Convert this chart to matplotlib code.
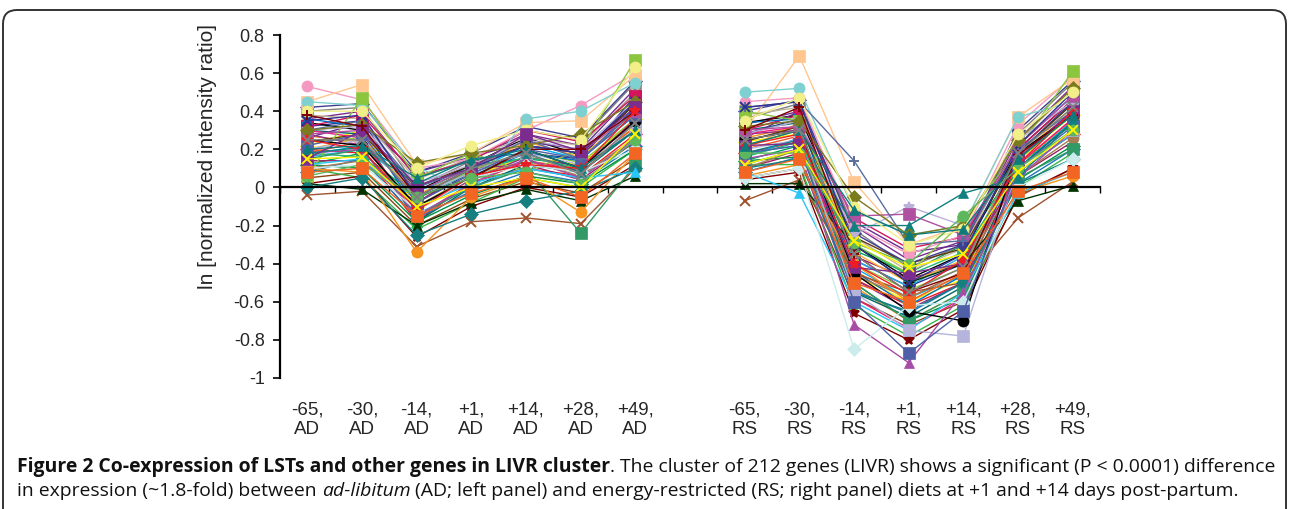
import numpy as np
import matplotlib
matplotlib.use("Agg")
import matplotlib.pyplot as plt
import matplotlib.patches as mpatches
import matplotlib.transforms as mtransforms

# time points (days relative to calving) for the two diets
days = ["-65", "-30", "-14", "+1", "+14", "+28", "+49"]
diets = ["AD", "RS"]
y_ticks = [-1, -0.8, -0.6, -0.4, -0.2, 0, 0.2, 0.4, 0.6, 0.8]
y_tick_labels = ["-1", "-0.8", "-0.6", "-0.4", "-0.2", "0", "0.2", "0.4", "0.6", "0.8"]

# ln ratios, one row per gene (a subset of the 212)
ad_values = [
    [0.53, 0.46, 0.10, 0.15, 0.30, 0.43, 0.60],
    [0.45, 0.54, 0.12, 0.18, 0.34, 0.35, 0.59],
    [0.45, 0.43, 0.11, -0.03, 0.36, 0.40, 0.55],
    [0.06, 0.47, 0.05, 0.18, 0.08, 0.20, 0.67],
    [-0.04, -0.02, -0.31, -0.18, -0.16, -0.19, 0.10],
    [0.02, -0.01, -0.20, -0.08, -0.01, -0.07, 0.06],
    [0.10, 0.08, -0.34, -0.05, 0.05, -0.13, 0.18],
    [0.15, 0.20, -0.15, 0.00, 0.10, -0.24, 0.12],
    [0.00, 0.05, -0.25, -0.14, -0.07, -0.02, 0.10],
    [0.12, 0.15, -0.10, 0.02, 0.10, 0.05, 0.08],
    [0.20, 0.25, -0.05, 0.08, 0.18, 0.12, 0.30],
    [0.25, 0.22, -0.10, 0.05, 0.20, 0.10, 0.35],
    [0.18, 0.20, -0.15, 0.02, 0.15, 0.05, 0.25],
    [0.10, 0.12, -0.12, 0.05, 0.12, 0.08, 0.20],
    [0.22, 0.28, -0.08, 0.07, 0.20, 0.15, 0.38],
    [0.30, 0.32, 0.02, 0.12, 0.25, 0.20, 0.45],
    [0.28, 0.30, -0.02, 0.10, 0.22, 0.18, 0.40],
    [0.18, 0.21, 0.02, 0.15, 0.18, 0.08, 0.30],
    [0.30, 0.35, 0.00, 0.10, 0.25, 0.15, 0.40],
    [0.35, 0.38, -0.05, 0.10, 0.22, 0.18, 0.45],
    [0.30, 0.33, 0.13, 0.18, 0.22, 0.28, 0.45],
    [0.40, 0.40, 0.10, 0.22, 0.30, 0.25, 0.63],
    [0.15, 0.30, 0.01, 0.10, 0.28, 0.19, 0.42],
    [0.38, 0.32, -0.05, 0.05, 0.20, 0.20, 0.40],
    [0.25, 0.20, -0.12, 0.06, 0.12, 0.10, 0.40],
    [0.06, 0.12, -0.05, 0.05, 0.08, 0.02, 0.25],
    [0.20, 0.22, 0.05, 0.14, 0.20, 0.10, 0.30],
    [0.25, 0.25, -0.05, 0.10, 0.18, 0.07, 0.34],
    [0.15, 0.16, -0.10, 0.00, 0.05, 0.00, 0.28],
    [0.08, 0.10, -0.15, -0.03, 0.05, -0.05, 0.18],
    [0.32, 0.35, -0.08, 0.08, 0.18, 0.15, 0.48],
    [0.20, 0.18, -0.18, 0.03, 0.10, 0.06, 0.28],
    [0.12, 0.18, -0.05, 0.12, 0.15, 0.12, 0.35],
    [0.36, 0.40, 0.05, 0.15, 0.28, 0.22, 0.52],
    [0.27, 0.24, -0.15, 0.02, 0.14, 0.10, 0.32],
    [0.17, 0.22, -0.02, 0.08, 0.22, 0.15, 0.38],
    [0.05, 0.08, -0.20, -0.06, 0.03, -0.03, 0.15],
    [0.40, 0.42, 0.00, 0.14, 0.30, 0.25, 0.55],
    [0.22, 0.30, -0.10, 0.06, 0.16, 0.12, 0.36],
    [0.30, 0.28, -0.18, 0.00, 0.12, 0.08, 0.30],
    [0.14, 0.14, -0.08, 0.10, 0.12, 0.04, 0.24],
    [0.10, 0.05, -0.22, -0.08, 0.05, 0.00, 0.20],
    [0.34, 0.30, -0.02, 0.12, 0.26, 0.17, 0.44],
    [0.26, 0.34, 0.08, 0.16, 0.24, 0.20, 0.50],
    [0.18, 0.24, -0.12, 0.04, 0.14, 0.08, 0.32],
    [0.08, 0.15, -0.16, -0.02, 0.08, 0.03, 0.22],
    [0.24, 0.26, -0.06, 0.09, 0.19, 0.13, 0.36],
    [0.38, 0.36, 0.04, 0.16, 0.26, 0.22, 0.50],
    [0.02, 0.06, -0.26, -0.10, 0.00, -0.05, 0.12],
    [0.28, 0.22, -0.10, 0.04, 0.16, 0.11, 0.34],
    [0.16, 0.20, -0.14, 0.00, 0.10, 0.05, 0.26],
    [0.32, 0.38, 0.06, 0.14, 0.30, 0.24, 0.48],
    [0.12, 0.10, -0.18, -0.04, 0.06, 0.02, 0.20],
    [0.20, 0.26, -0.04, 0.10, 0.24, 0.16, 0.40],
    [0.36, 0.32, -0.12, 0.06, 0.18, 0.14, 0.42],
    [0.24, 0.28, 0.00, 0.12, 0.22, 0.18, 0.44],
    [0.10, 0.14, -0.10, 0.06, 0.14, 0.06, 0.26],
    [0.30, 0.26, -0.16, 0.02, 0.14, 0.09, 0.36],
    [0.18, 0.16, -0.06, 0.08, 0.16, 0.10, 0.30],
    [0.42, 0.44, 0.08, 0.18, 0.32, 0.26, 0.56],
]
rs_values = [
    [0.45, 0.47, -0.20, -0.35, -0.25, 0.33, 0.58],
    [0.30, 0.69, 0.03, -0.30, -0.20, 0.37, 0.57],
    [0.50, 0.52, -0.12, -0.25, -0.20, 0.37, 0.45],
    [0.40, 0.35, -0.30, -0.45, -0.18, 0.20, 0.61],
    [-0.07, 0.04, -0.45, -0.55, -0.50, -0.16, 0.03],
    [0.02, 0.02, -0.30, -0.50, -0.40, -0.07, 0.01],
    [0.06, 0.12, -0.40, -0.60, -0.45, -0.03, 0.06],
    [0.12, 0.20, -0.50, -0.70, -0.55, 0.05, 0.20],
    [0.10, 0.15, -0.55, -0.65, -0.50, 0.02, 0.15],
    [0.08, -0.03, -0.60, -0.75, -0.55, -0.03, 0.08],
    [0.20, 0.25, -0.55, -0.75, -0.78, 0.10, 0.30],
    [0.25, 0.30, -0.45, -0.65, -0.70, 0.18, 0.38],
    [0.15, 0.20, -0.72, -0.92, -0.55, 0.05, 0.30],
    [0.05, 0.10, -0.85, -0.62, -0.60, 0.00, 0.15],
    [0.18, 0.22, -0.60, -0.87, -0.65, 0.10, 0.32],
    [0.28, 0.35, -0.25, -0.10, -0.20, 0.25, 0.45],
    [0.30, 0.32, -0.15, -0.14, -0.25, 0.22, 0.48],
    [0.18, 0.25, -0.20, -0.20, -0.03, 0.05, 0.35],
    [0.42, 0.45, 0.14, -0.30, -0.28, 0.20, 0.40],
    [0.42, 0.45, -0.30, -0.50, -0.35, 0.22, 0.50],
    [0.32, 0.35, -0.05, -0.25, -0.20, 0.25, 0.52],
    [0.35, 0.47, -0.10, -0.30, -0.22, 0.28, 0.50],
    [0.22, 0.23, -0.42, -0.45, -0.40, 0.15, 0.40],
    [0.30, 0.42, -0.35, -0.55, -0.45, 0.17, 0.38],
    [0.22, 0.28, -0.40, -0.56, -0.38, 0.12, 0.40],
    [0.18, 0.18, -0.29, -0.40, -0.15, 0.10, 0.30],
    [0.22, 0.30, -0.12, -0.25, -0.22, 0.15, 0.38],
    [0.25, 0.30, -0.35, -0.55, -0.42, 0.18, 0.42],
    [0.12, 0.20, -0.28, -0.42, -0.35, 0.08, 0.30],
    [0.08, 0.15, -0.50, -0.60, -0.45, -0.02, 0.08],
    [0.28, 0.36, -0.38, -0.52, -0.40, 0.18, 0.45],
    [0.18, 0.24, -0.48, -0.62, -0.50, 0.08, 0.28],
    [0.14, 0.22, -0.33, -0.45, -0.30, 0.12, 0.33],
    [0.33, 0.40, -0.20, -0.38, -0.28, 0.25, 0.53],
    [0.26, 0.32, -0.52, -0.70, -0.55, 0.12, 0.35],
    [0.16, 0.26, -0.42, -0.58, -0.46, 0.10, 0.35],
    [0.05, 0.10, -0.58, -0.72, -0.60, -0.05, 0.10],
    [0.36, 0.44, -0.22, -0.42, -0.30, 0.28, 0.55],
    [0.24, 0.28, -0.46, -0.60, -0.48, 0.14, 0.38],
    [0.30, 0.34, -0.55, -0.68, -0.52, 0.10, 0.34],
    [0.10, 0.18, -0.36, -0.48, -0.40, 0.06, 0.24],
    [0.12, 0.12, -0.62, -0.78, -0.62, 0.00, 0.18],
    [0.34, 0.38, -0.30, -0.48, -0.35, 0.20, 0.46],
    [0.26, 0.40, -0.18, -0.34, -0.30, 0.22, 0.48],
    [0.20, 0.27, -0.44, -0.58, -0.44, 0.12, 0.36],
    [0.08, 0.16, -0.54, -0.66, -0.50, 0.02, 0.20],
    [0.22, 0.30, -0.40, -0.54, -0.42, 0.14, 0.40],
    [0.38, 0.42, -0.26, -0.44, -0.32, 0.24, 0.52],
    [0.04, 0.08, -0.66, -0.80, -0.64, -0.04, 0.10],
    [0.28, 0.30, -0.48, -0.64, -0.50, 0.16, 0.40],
    [0.18, 0.22, -0.38, -0.52, -0.36, 0.08, 0.28],
    [0.30, 0.38, -0.16, -0.32, -0.26, 0.20, 0.46],
    [0.14, 0.16, -0.50, -0.70, -0.58, 0.04, 0.22],
    [0.20, 0.34, -0.34, -0.50, -0.38, 0.16, 0.42],
    [0.34, 0.36, -0.44, -0.62, -0.46, 0.18, 0.44],
    [0.24, 0.32, -0.26, -0.40, -0.32, 0.18, 0.44],
    [0.10, 0.20, -0.46, -0.58, -0.44, 0.06, 0.26],
    [0.28, 0.32, -0.58, -0.74, -0.58, 0.12, 0.36],
    [0.16, 0.24, -0.30, -0.46, -0.34, 0.10, 0.30],
    [0.40, 0.46, -0.24, -0.40, -0.30, 0.30, 0.56],
]

# series styles (Excel-like)
special_colors = ['#F49AC2', '#FFC690', '#7FD0D0', '#8CC63F', '#A0522D', '#003300',
                  '#F7931E', '#339966', '#168080', '#29C5F6', '#B4B4DC', '#000000',
                  '#A64CA6', '#CCECEC', '#4F5FA8', '#BBB0D8', '#B050A0', '#118080',
                  '#5A6E9E', '#2E3192', '#7A7A1E', '#F2EE88', '#7B2C8E', '#7F0000',
                  '#ED1C24', '#5DB75D', '#0E7A7A', '#808080', '#FFF200', '#F26522']
special_markers = ['o', 's', 'o', 's', 'x', '^', 'o', 's', 'D', '^', 's', 'o',
                   '^', 'D', 's', '*', 's', '^', '+', 'x', 'D', 'o', 's', '+',
                   '*', 'o', '^', 'x', 'x', 's']
other_colors = ['#2E3192', '#ED1C24', '#00A651', '#7B2C8E', '#F7941D', '#00AEEF',
                '#8B4513', '#808080', '#FFF200', '#006666', '#9E1F63', '#39B54A',
                '#000000', '#662D91', '#F15A24', '#1B75BC', '#8DC63F', '#C2B59B',
                '#7F0000', '#92278F', '#29ABE2', '#D4145A', '#009245', '#FBB03B',
                '#0071BC', '#603813', '#A67C52', '#ED1E79', '#22B573', '#3F3F8F']
other_markers = ['s', 'D', '^', 'x', '*', 'o', '+']

n_genes = len(ad_values)
colors = special_colors + [other_colors[i % len(other_colors)] for i in range(n_genes - len(special_colors))]
markers = special_markers + [other_markers[i % len(other_markers)] for i in range(n_genes - len(special_markers))]

plt.rcParams['font.family'] = ['Liberation Sans', 'DejaVu Sans']
text_color = '#262626'

W, H = 1290, 509
fig = plt.figure(figsize=(W / 100, H / 100), dpi=100)
ax = fig.add_axes([280 / W, 1 - 378 / H, 820 / W, 343 / H])

x_ad = np.arange(1, 8)
x_rs = np.arange(9, 16)
order = list(range(len(special_colors), n_genes)) + list(range(len(special_colors)))
for i in order:
    c, m = colors[i], markers[i]
    ms = 8 if m in ('o', 's') else 7.5
    for xs, ys in ((x_ad, ad_values[i]), (x_rs, rs_values[i])):
        ax.plot(xs, ys, color=c, lw=1.0, marker=m, ms=ms, mec=c, mfc=c,
                mew=1.4 if m in ('x', '+', '*') else 0.5, clip_on=False)

ax.set_xlim(0.5, 15.5)
ax.set_ylim(-1, 0.8)
ax.spines[['top', 'right']].set_visible(False)
ax.spines['bottom'].set_position(('data', 0))
ax.spines['bottom'].set_linewidth(1.6)
ax.spines['left'].set_linewidth(1.6)
ax.set_xticks(np.arange(0.5, 15.6, 1))
ax.tick_params(axis='x', direction='out', length=4, width=1, labelbottom=False)
ax.set_yticks(y_ticks)
ax.set_yticklabels(y_tick_labels)
ax.tick_params(axis='y', direction='out', length=5, width=1.2, labelsize=13,
               labelcolor=text_color, pad=6)

ax.set_ylabel("ln [normalized intensity ratio]", fontsize=15, color=text_color)
ax.yaxis.set_label_coords(-0.077, 0.647)

trans = mtransforms.blended_transform_factory(ax.transData, ax.transAxes)
for xs, diet in ((x_ad, diets[0]), (x_rs, diets[1])):
    for x, d in zip(xs, days):
        ax.text(x, -0.122, f"{d},\n{diet}", transform=trans, ha='center', va='center',
                fontsize=13.5, linespacing=1.15, color=text_color)

# rounded frame, open at the bottom
frame = mpatches.FancyBboxPatch((3, -40), W - 7, H + 40 - 10,
                                boxstyle="round,pad=0,rounding_size=14",
                                transform=mtransforms.IdentityTransform(),
                                fill=False, lw=1.4, ec='#333333')
fig.add_artist(frame)

# caption
cap_font = ['Open Sans', 'DejaVu Sans']
line1 = [("Figure 2 Co-expression of LSTs and other genes in LIVR cluster", dict(weight='bold')),
         (". The cluster of 212 genes (LIVR) shows a significant (P < 0.0001) difference", dict())]
line2 = [("in expression (~1.8-fold) between ", dict()),
         ("ad-libitum", dict(style='italic')),
         (" (AD; left panel) and energy-restricted (RS; right panel) diets at +1 and +14 days post-partum.", dict())]

renderer = fig.canvas.get_renderer()


def draw_runs(runs, x0, y, size):
    x = x0
    made = []
    for txt, kw in runs:
        t = fig.text(x / W, 1 - y / H, txt, fontsize=size, va='baseline', ha='left',
                     family=cap_font, color='#111111', **kw)
        x += t.get_window_extent(renderer).width
        made.append(t)
    return x, made


end, tmp = draw_runs(line1, 17, 472, 10)
for t in tmp:
    t.remove()
size = 10 * (1275 - 17) / (end - 17)
draw_runs(line1, 17, 472, size)
draw_runs(line2, 17, 496, size)

fig.savefig("out.png", dpi=100)
